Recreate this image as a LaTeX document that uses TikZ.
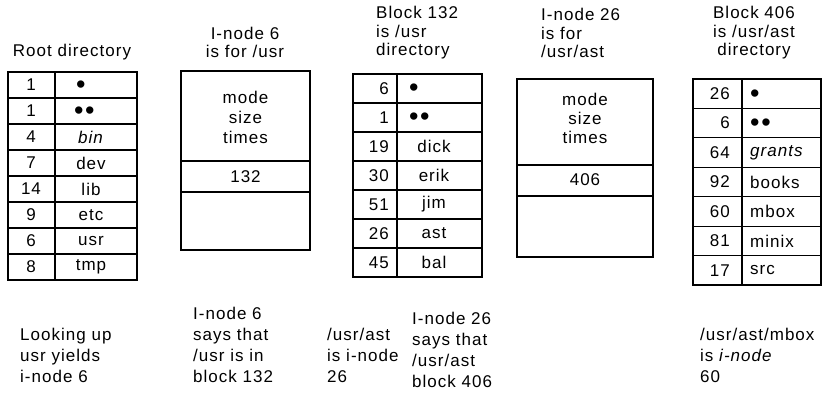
\documentclass[tikz,border=0pt]{standalone}
\usepackage{fontspec}
\setmainfont[LetterSpace=6]{Liberation Sans}
\begin{document}
\begin{tikzpicture}[x=1pt,y=-1pt]
\tikzset{
  txt/.style={font=\fontsize{17}{21}\selectfont, inner sep=0pt},
  ttl/.style={txt, font=\fontsize{17}{18.5}\selectfont},
  dots/.style={inner sep=0pt, anchor=west, yshift=-2pt, font=\fontsize{27}{27}\selectfont},
  tbl/.style={draw=black, line width=1.1pt},
}
\useasboundingbox (0,0) rectangle (822,392);

% ---------- Root directory ----------
\node[txt] (roottitle) at (72,52) {Root directory};
\draw[tbl] (8,72) rectangle (137,280);
\draw[tbl] (55,72) -- (55,280);
\foreach \i in {1,...,7} \draw[tbl] (8,{72+26*\i}) -- (137,{72+26*\i});
\foreach \n [count=\i from 0] in {1,1,4,7,14,9,6,8}
  \node[txt] (rn\i) at (31,{85+26*\i}) {\n};
\node[dots] (rs0) at (76,85) {\textbullet};
\node[dots] (rs1) at (74,111) {\textbullet\textbullet};
\foreach \s [count=\i from 2] in {\textit{bin},dev,lib,etc,usr,tmp}
  \node[txt] (rs\i) at (91,{85+26*\i}) {\s};
\node[txt, anchor=west, align=left] (rootnote) at (20,355) {Looking up\\usr yields\\i-node 6};

% ---------- I-node 6 ----------
\node[ttl, align=center] (in6title) at (245,42.5) {I-node 6\\is for /usr};
\draw[tbl] (181,71) rectangle (310,250);
\draw[tbl] (181,161) -- (310,161);
\draw[tbl] (181,192) -- (310,192);
\node[txt, align=center, font=\fontsize{17}{20}\selectfont] (in6attr) at (245.5,117) {mode\\size\\times};
\node[txt] (in6blk) at (245.5,177) {132};
\node[txt, anchor=west, align=left] (in6note) at (193,345) {I-node 6\\says that\\/usr is in\\block 132};

% ---------- Block 132 ----------
\node[ttl, anchor=west, align=left] (b132title) at (376,33) {Block 132\\is /usr\\directory};
\draw[tbl] (353,74) rectangle (482,277);
\draw[tbl] (397,74) -- (397,277);
\foreach \i in {1,...,6} \draw[tbl] (353,{74+29*\i}) -- (482,{74+29*\i});
\foreach \n [count=\i from 0] in {6,1,19,30,51,26,45}
  \node[txt, anchor=east] (bn\i) at (389,{88.5+29*\i}) {\n};
\node[dots] (bs0) at (409,88.5) {\textbullet};
\node[dots] (bs1) at (409,117.5) {\textbullet\textbullet};
\foreach \s [count=\i from 2] in {dick,erik,jim,ast,bal}
  \node[txt] (bs\i) at (434,{88.5+29*\i}) {\s};
\node[txt, anchor=west, align=left] (b132note) at (327,355) {/usr/ast\\is i-node\\26};

% ---------- I-node 26 ----------
\node[ttl, anchor=west, align=left] (in26title) at (541,33) {I-node 26\\is for\\/usr/ast};
\draw[tbl] (517,79) rectangle (653,257);
\draw[tbl] (517,165) -- (653,165);
\draw[tbl] (517,196) -- (653,196);
\node[txt, align=center, font=\fontsize{17}{19}\selectfont] (in26attr) at (585,118.5) {mode\\size\\times};
\node[txt] (in26blk) at (585,180) {406};
\node[txt, anchor=west, align=left] (in26note) at (412,350) {I-node 26\\says that\\/usr/ast\\block 406};

% ---------- Block 406 ----------
\node[ttl, align=center] (b406title) at (754,33) {Block 406\\is /usr/ast\\directory};
\draw[tbl] (693,79) rectangle (821,285);
\draw[tbl] (742,79) -- (742,285);
\foreach \i in {1,...,6} \draw[tbl] (693,{79+29.43*\i}) -- (821,{79+29.43*\i});
\foreach \n [count=\i from 0] in {26,6,64,92,60,81,17}
  \node[txt, anchor=east] (dn\i) at (730,{93.7+29.43*\i}) {\n};
\node[dots] (ds0) at (750,93.7) {\textbullet};
\node[dots] (ds1) at (750,123.1) {\textbullet\textbullet};
\foreach \s [count=\i from 2] in {\textit{grants},books,mbox,minix,src}
  \node[txt, anchor=west] (ds\i) at (750,{93.7+29.43*\i}) {\s};
\node[txt, anchor=west, align=left] (b406note) at (700,355) {/usr/ast/mbox\\is \textit{i-node}\\60};
\end{tikzpicture}
\end{document}
